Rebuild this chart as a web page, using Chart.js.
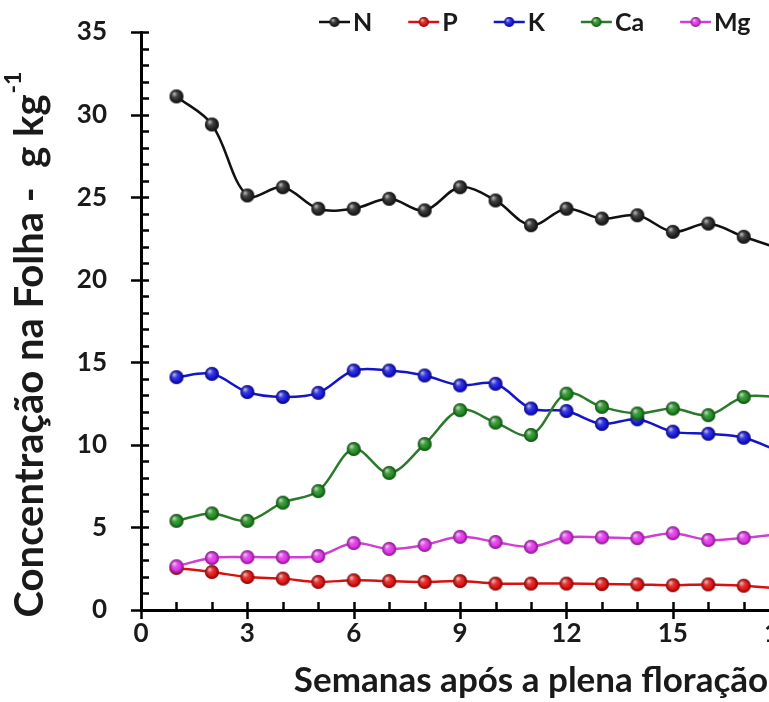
<!DOCTYPE html>
<html>
<head>
<meta charset="utf-8">
<script src="https://cdn.jsdelivr.net/npm/chart.js@4.4.0/dist/chart.umd.min.js"></script>
<style>
  html, body { margin: 0; padding: 0; background: #fff; overflow: hidden; }
  #wrap { width: 940px; height: 702px; }
</style>
</head>
<body>
<div id="wrap"><canvas id="lineChart" width="940" height="702"></canvas></div>
<script>
// semanas após a plena floração
var weeks = [1, 2, 3, 4, 5, 6, 7, 8, 9, 10, 11, 12, 13, 14, 15, 16, 17, 18];

// concentração na folha (g/kg)
var nVals  = [31.1, 29.4, 25.1, 25.6, 24.3, 24.3, 24.9, 24.2, 25.6, 24.8, 23.3, 24.3, 23.7, 23.9, 22.9, 23.4, 22.6, 21.9];
var pVals  = [2.55, 2.3, 2.0, 1.9, 1.7, 1.8, 1.75, 1.7, 1.75, 1.6, 1.6, 1.6, 1.57, 1.55, 1.5, 1.55, 1.47, 1.3];
var kVals  = [14.1, 14.3, 13.2, 12.9, 13.15, 14.5, 14.5, 14.2, 13.6, 13.7, 12.2, 12.05, 11.27, 11.55, 10.8, 10.67, 10.43, 9.6];
var caVals = [5.4, 5.85, 5.4, 6.5, 7.2, 9.75, 8.3, 10.05, 12.1, 11.35, 10.6, 13.1, 12.3, 11.9, 12.2, 11.8, 12.9, 12.9];
var mgVals = [2.65, 3.15, 3.2, 3.2, 3.27, 4.05, 3.7, 3.94, 4.43, 4.12, 3.83, 4.4, 4.4, 4.35, 4.65, 4.24, 4.37, 4.6];

var seriesNames = ['N', 'P', 'K', 'Ca', 'Mg'];
var xTitle = 'Semanas após a plena floração';
var yTitle = 'Concentração na Folha -  g kg';
var yTitleSup = '-1';

var FONT = 'Lato, "Open Sans", sans-serif';

// esfera com brilho para os marcadores
function ball(color, r) {
  var c = document.createElement('canvas');
  var s = 2 * r + 2;
  c.width = s; c.height = s;
  var g = c.getContext('2d');
  var cx = s / 2, cy = s / 2;
  g.beginPath(); g.arc(cx, cy, r, 0, Math.PI * 2); g.fillStyle = color; g.fill();
  var hl = g.createRadialGradient(cx - r * 0.35, cy - r * 0.4, 0, cx - r * 0.2, cy - r * 0.2, r * 0.9);
  hl.addColorStop(0, 'rgba(255,255,255,0.75)');
  hl.addColorStop(0.5, 'rgba(255,255,255,0.15)');
  hl.addColorStop(1, 'rgba(255,255,255,0)');
  g.fillStyle = hl; g.fill();
  var sh = g.createRadialGradient(cx, cy, r * 0.55, cx, cy, r);
  sh.addColorStop(0, 'rgba(0,0,0,0)');
  sh.addColorStop(1, 'rgba(0,0,0,0.45)');
  g.fillStyle = sh; g.fill();
  return c;
}

var styles = [
  { line: '#111111', dot: '#222222' },
  { line: '#d81010', dot: '#e01010' },
  { line: '#1515c8', dot: '#1515dd' },
  { line: '#2a7a2a', dot: '#1f8a1f' },
  { line: '#d040d0', dot: '#e030e8' }
];
var allVals = [nVals, pVals, kVals, caVals, mgVals];

var datasets = allVals.map(function (vals, i) {
  return {
    label: seriesNames[i],
    data: weeks.map(function (w, j) { return { x: w, y: vals[j] }; }),
    borderColor: styles[i].line,
    borderWidth: 2.5,
    tension: 0.35,
    pointStyle: ball(styles[i].dot, 7),
    legendBall: ball(styles[i].dot, 5),
    pointRadius: 7,
    fill: false
  };
});
datasets.reverse();

var axisDecor = {
  id: 'axisDecor',
  beforeDatasetsDraw: function (chart) {
    var ctx = chart.ctx, xs = chart.scales.x, ys = chart.scales.y;
    var left = chart.chartArea.left, bottom = chart.chartArea.bottom;
    ctx.save();
    ctx.strokeStyle = '#000';
    ctx.lineWidth = 2.5;
    ctx.beginPath();
    for (var v = 0; v <= 35; v++) {
      var py = Math.round(ys.getPixelForValue(v)) + 0.5;
      if (v % 5 === 0) { ctx.moveTo(left - 10, py); ctx.lineTo(left + 8, py); }
      else { ctx.moveTo(left, py); ctx.lineTo(left + 8, py); }
    }
    for (var w = 0; w <= 22; w++) {
      var px = Math.round(xs.getPixelForValue(w)) + 0.5;
      if (w % 3 === 0) { ctx.moveTo(px, bottom - 8); ctx.lineTo(px, bottom + 9); }
      else { ctx.moveTo(px, bottom); ctx.lineTo(px, bottom - 8); }
    }
    ctx.stroke();

    // título do eixo y com expoente
    ctx.fillStyle = '#1a1a1a';
    ctx.translate(30, (chart.chartArea.top + bottom) / 2 + 24);
    ctx.rotate(-Math.PI / 2);
    ctx.font = 'bold 40px ' + FONT;
    var w1 = ctx.measureText(yTitle).width;
    ctx.font = 'bold 23px ' + FONT;
    var w2 = ctx.measureText(yTitleSup).width;
    var start = -(w1 + w2) / 2;
    ctx.textBaseline = 'middle';
    ctx.textAlign = 'left';
    ctx.font = 'bold 40px ' + FONT;
    ctx.fillText(yTitle, start, 0);
    ctx.font = 'bold 23px ' + FONT;
    ctx.fillText(yTitleSup, start + w1 + 1, -16);
    ctx.restore();
  },
  afterDraw: function (chart) {
    // legenda
    var ctx = chart.ctx;
    var x = 319, y = 22;
    ctx.save();
    ctx.font = 'bold 25px ' + FONT;
    ctx.textBaseline = 'middle';
    ctx.textAlign = 'left';
    for (var i = 0; i < seriesNames.length; i++) {
      var ds = chart.data.datasets[seriesNames.length - 1 - i];
      ctx.strokeStyle = ds.borderColor;
      ctx.lineWidth = 2.5;
      ctx.beginPath(); ctx.moveTo(x, y); ctx.lineTo(x + 31, y); ctx.stroke();
      var b = ds.legendBall;
      ctx.drawImage(b, x + 15.5 - b.width / 2, y - b.height / 2);
      ctx.fillStyle = '#1a1a1a';
      ctx.fillText(seriesNames[i], x + 34, y + 1);
      x += 34 + ctx.measureText(seriesNames[i]).width + 36;
    }
    ctx.restore();
  }
};

var ctx = document.getElementById('lineChart');
var lineChart = new Chart(ctx, {
  type: 'line',
  data: { datasets: datasets },
  plugins: [axisDecor],
  options: {
    responsive: false,
    animation: false,
    events: [],
    layout: { padding: { top: 32, right: 19, bottom: 0, left: 0 } },
    plugins: { legend: { display: false }, tooltip: { enabled: false } },
    scales: {
      x: {
        type: 'linear', min: 0, max: 22,
        grid: { display: false, drawTicks: false },
        border: { display: true, color: '#000', width: 3 },
        ticks: {
          stepSize: 1, autoSkip: false, maxRotation: 0, padding: 8,
          color: '#1a1a1a', font: { family: FONT, size: 26, weight: 'bold' },
          callback: function (v) { return (v % 3 === 0 && v <= 21) ? v : ''; }
        },
        title: {
          display: true, text: xTitle, color: '#1a1a1a',
          font: { family: FONT, size: 35, weight: 'bold' },
          padding: { top: 0, bottom: 0 }
        },
        afterFit: function (s) { s.height = 92; s.paddingLeft = 0; s.paddingRight = 0; }
      },
      y: {
        min: 0, max: 35,
        grid: { display: false, drawTicks: false },
        border: { display: true, color: '#000', width: 3 },
        ticks: {
          stepSize: 1, autoSkip: false, padding: 34,
          color: '#1a1a1a', font: { family: FONT, size: 26, weight: 'bold' },
          callback: function (v) { return v % 5 === 0 ? v : ''; }
        },
        afterFit: function (s) { s.width = 141; s.paddingTop = 0; s.paddingBottom = 0; }
      }
    }
  }
});
</script>
</body>
</html>
